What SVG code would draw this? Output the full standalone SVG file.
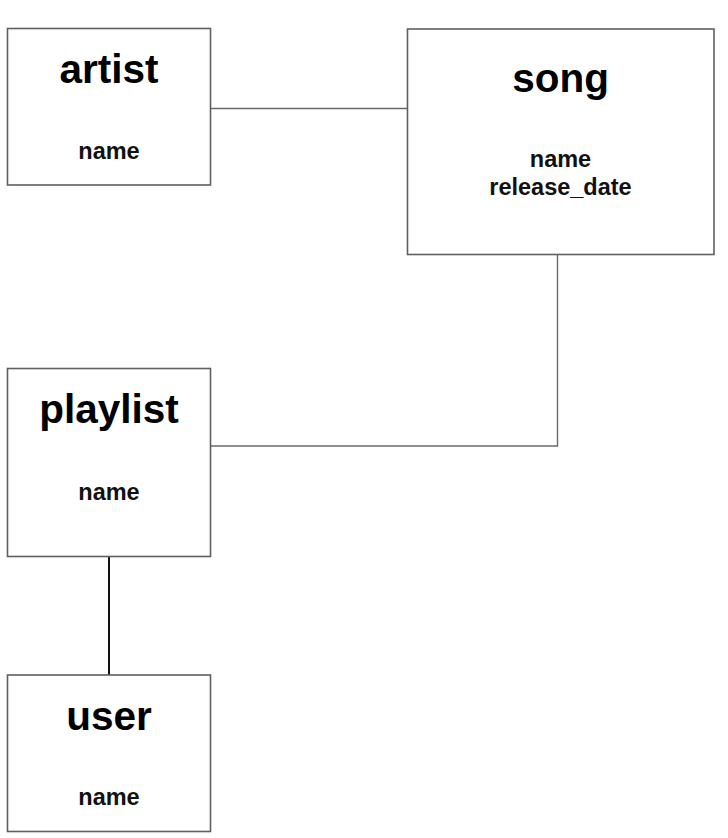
<svg xmlns="http://www.w3.org/2000/svg" width="728" height="838" viewBox="0 0 728 838">
  <style>
    .box { fill: #ffffff; stroke: #5f5f5f; stroke-width: 1.6; }
    .conn { fill: none; stroke: #6a6a6a; stroke-width: 1.4; }
    .conn-dark { fill: none; stroke: #111111; stroke-width: 2; }
    .title { font-family: "Liberation Sans", Arial, sans-serif; font-weight: bold; font-size: 40.5px; fill: #000; text-anchor: middle; }
    .attr { font-family: "Liberation Sans", Arial, sans-serif; font-weight: bold; font-size: 23.5px; fill: #111; text-anchor: middle; }
  </style>
  <rect width="728" height="838" fill="#ffffff"/>
  <g id="connectors">
    <line class="conn" x1="211" y1="108.5" x2="407.5" y2="108.5"/>
    <polyline class="conn" points="557.5,254.5 557.5,446 211,446"/>
    <line class="conn-dark" x1="109" y1="556.5" x2="109" y2="675"/>
  </g>
  <g id="artist">
    <rect class="box" x="7.5" y="28.5" width="203" height="156.5"/>
    <text class="title" x="109" y="83">artist</text>
    <text class="attr" x="109" y="158.5">name</text>
  </g>
  <g id="song">
    <rect class="box" x="407.5" y="29" width="306.5" height="225.5"/>
    <text class="title" x="560.5" y="92">song</text>
    <text class="attr" x="560.5" y="167">name</text>
    <text class="attr" x="560.5" y="194.5">release_date</text>
  </g>
  <g id="playlist">
    <rect class="box" x="7.5" y="368.5" width="203" height="188"/>
    <text class="title" x="109" y="423">playlist</text>
    <text class="attr" x="109" y="499.5">name</text>
  </g>
  <g id="user">
    <rect class="box" x="7.5" y="675" width="203" height="156.5"/>
    <text class="title" x="109" y="730">user</text>
    <text class="attr" x="109" y="804.5">name</text>
  </g>
</svg>
